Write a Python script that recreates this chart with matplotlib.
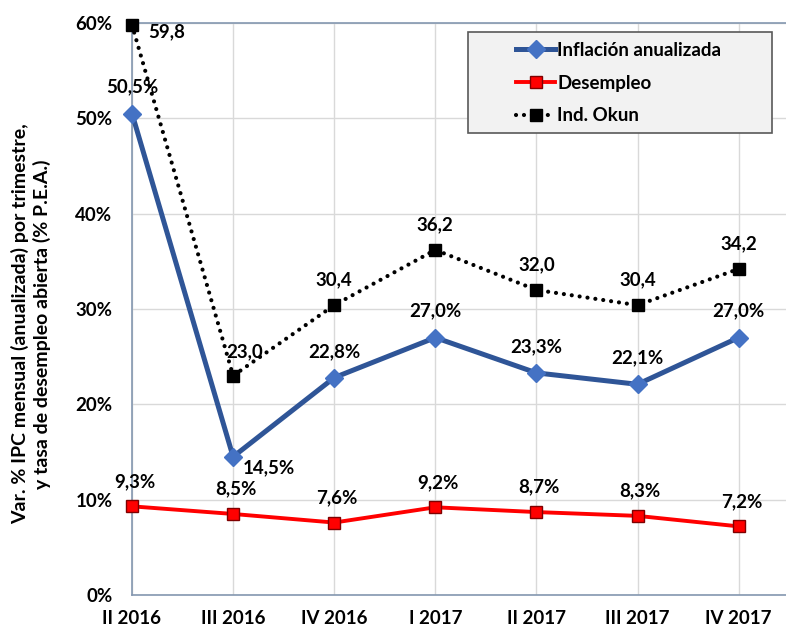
import matplotlib
matplotlib.use("Agg")
import matplotlib.pyplot as plt
from matplotlib.ticker import FuncFormatter
from matplotlib.patches import Rectangle

categories = ["II 2016", "III 2016", "IV 2016", "I 2017", "II 2017", "III 2017", "IV 2017"]
inflacion = [50.5, 14.5, 22.8, 27.0, 23.3, 22.1, 27.0]
desempleo = [9.3, 8.5, 7.6, 9.2, 8.7, 8.3, 7.2]
okun = [59.8, 23.0, 30.4, 36.2, 32.0, 30.4, 34.2]
yticks = [0, 10, 20, 30, 40, 50, 60]

plt.rcParams['font.family'] = ['Lato', 'DejaVu Sans']
plt.rcParams['font.weight'] = 'bold'

W, H = 786, 631
fig = plt.figure(figsize=(W / 100, H / 100), dpi=100)
left, right, top, bottom = 132, 786, 23, 595
ax = fig.add_axes([left / W, 1 - bottom / H, (right - left) / W, (bottom - top) / H])

x = list(range(len(categories)))
ax.set_xlim(0, (right - left) / 101.1)
ax.set_ylim(0, 60)

frame_col = "#8497B0"
for s in ax.spines.values():
    s.set_color(frame_col)
    s.set_linewidth(1.2)
ax.spines['right'].set_visible(False)

ax.set_yticks(yticks)
ax.yaxis.set_major_formatter(FuncFormatter(lambda v, p: f"{int(v)}%"))
ax.set_xticks(x)
ax.set_xticklabels(categories)
ax.tick_params(axis='both', length=0, labelsize=13.5)
ax.tick_params(axis='x', pad=11)
ax.tick_params(axis='y', pad=14)
for lab in ax.get_xticklabels() + ax.get_yticklabels():
    lab.set_fontweight('bold')
ax.grid(True, color="#D9D9D9", linewidth=1)
ax.set_axisbelow(True)

dots = (0, (0.01, 1.9))
l1, = ax.plot(x, inflacion, color="#2F5597", lw=3.6, marker="D", markersize=9,
              markerfacecolor="#4472C4", markeredgecolor="#4472C4", zorder=3, clip_on=False)
l2, = ax.plot(x, desempleo, color="#FF0000", lw=2.8, marker="s", markersize=8.5,
              markerfacecolor="#FF0000", markeredgecolor="#7F0000", markeredgewidth=1, zorder=3, clip_on=False)
l3, = ax.plot(x, okun, color="black", lw=3, linestyle=dots, dash_capstyle='round', marker="s", markersize=9,
              markerfacecolor="black", markeredgecolor="black", zorder=4, clip_on=False)

fmt = lambda v: f"{v:.1f}".replace(".", ",")
fs = 13.5
for i, v in enumerate(inflacion):
    off = (26, -8) if i == 1 else (0, 19)
    ax.annotate(fmt(v) + "%", (i, v), xytext=off, textcoords="offset points",
                ha="center", va="center", fontsize=fs, fontweight="bold", zorder=6)
for i, v in enumerate(desempleo):
    ax.annotate(fmt(v) + "%", (i, v), xytext=(2, 18), textcoords="offset points",
                ha="center", va="center", fontsize=fs, fontweight="bold", zorder=6, annotation_clip=False)
for i, v in enumerate(okun):
    if i == 0:
        off = (25, -5)
    elif i == 1:
        off = (8, 17)
    else:
        off = (0, 18)
    ax.annotate(fmt(v), (i, v), xytext=off, textcoords="offset points",
                ha="center", va="center", fontsize=fs, fontweight="bold", zorder=6, annotation_clip=False)

# legend box
bx0, by0, bx1, by1 = 468, 32, 772, 133
fig.patches.append(Rectangle((bx0 / W, 1 - by1 / H), (bx1 - bx0) / W, (by1 - by0) / H,
                             transform=fig.transFigure, facecolor="#F2F2F2", edgecolor="#595959",
                             linewidth=1.2, zorder=5))
leg = fig.legend([l1, l2, l3], ["Inflación anualizada", "Desempleo", "Ind. Okun"],
                 loc="center left", bbox_to_anchor=(516 / W, 1 - 83 / H), bbox_transform=fig.transFigure,
                 fontsize=13.5, frameon=False, borderpad=0, labelspacing=0.85,
                 handlelength=2.1, handletextpad=0.1, borderaxespad=0)
leg.set_zorder(6)
for t in leg.get_texts():
    t.set_fontweight("bold")

fig.text(31 / W, 1 - 324 / H, "Var. % IPC mensual (anualizada) por trimestre,\ny tasa de desempleo abierta (% P.E.A.)",
         rotation=90, ha="center", va="center", fontsize=14, fontweight="bold", linespacing=1.3)

fig.savefig("out.png", dpi=100)
